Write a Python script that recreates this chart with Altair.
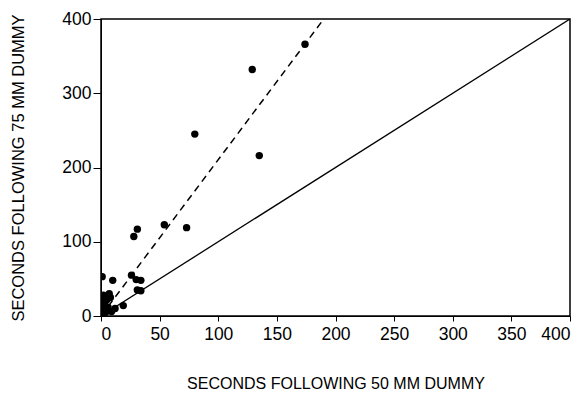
import altair as alt
import pandas as pd

# Scatter points (seconds following 50 mm dummy, seconds following 75 mm dummy)
x_vals = [174, 129, 80, 135, 54, 73, 31, 28, 1, 10, 26, 30, 34, 34, 31, 19,
          2, 5, 8, 3, 6, 1, 9, 2, 0, 4, 12, 7, 1, 3]
y_vals = [366, 332, 245, 216, 123, 119, 117, 107, 53, 48, 55, 49, 48, 34, 35, 14,
          28, 22, 25, 18, 12, 8, 6, 3, 0, 5, 10, 30, 15, 24]

# Reference lines
eq_x = [0, 400]
eq_y = [0, 400]
fit_x = [0, 190]
fit_y = [0, 400]

pts = pd.DataFrame({"x": x_vals, "y": y_vals})
eq = pd.DataFrame({"x": eq_x, "y": eq_y})
fit = pd.DataFrame({"x": fit_x, "y": fit_y})

font = "Liberation Sans"

xs = alt.Scale(domain=[0, 400], nice=False)
ys = alt.Scale(domain=[0, 400], nice=False)

xax = alt.Axis(values=[0, 50, 100, 150, 200, 250, 300, 350, 400], title="SECONDS FOLLOWING 50 MM DUMMY",
               grid=False, tickSize=5, tickColor="black", domainColor="black",
               labelFont=font, labelFontSize=17.5, labelColor="black", labelPadding=4,
               titleFont=font, titleFontSize=16, titleFontWeight="normal", titleColor="black",
               titlePadding=33)
yax = alt.Axis(values=[0, 100, 200, 300, 400], title="SECONDS FOLLOWING 75 MM DUMMY",
               grid=False, tickSize=8, tickColor="black", domainColor="black",
               labelFont=font, labelFontSize=17.5, labelColor="black", labelPadding=2,
               titleFont=font, titleFontSize=16.5, titleFontWeight="normal", titleColor="black",
               titlePadding=35)

base_x = alt.X("x:Q", scale=xs, axis=xax)
base_y = alt.Y("y:Q", scale=ys, axis=yax)

eq_line = alt.Chart(eq).mark_line(color="black", strokeWidth=1.3, clip=True).encode(x=base_x, y=base_y)
fit_line = alt.Chart(fit).mark_line(color="black", strokeWidth=1.5, strokeDash=[7, 5], clip=True).encode(x=base_x, y=base_y)
dots = alt.Chart(pts).mark_circle(color="black", opacity=1, size=55, clip=True).encode(x=base_x, y=base_y)

chart = alt.layer(eq_line, fit_line, dots).properties(
    width=469, height=297,
    autosize=alt.AutoSizeParams(type="none"),
    padding={"left": 93, "top": 11, "right": 8, "bottom": 78},
    background="white",
).configure_view(stroke="black", strokeWidth=1.5)

chart.save("out.html", embed_options={"renderer": "svg", "actions": False})
